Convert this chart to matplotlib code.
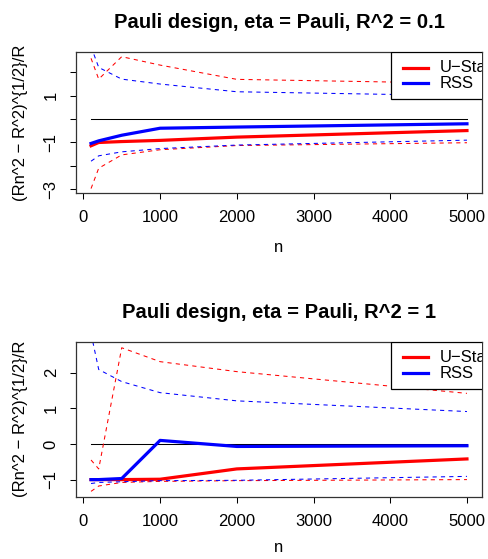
import matplotlib
matplotlib.use("Agg")
import matplotlib.pyplot as plt
from matplotlib.patches import Rectangle
from matplotlib.lines import Line2D

plt.rcParams['font.family'] = ['Liberation Sans', 'DejaVu Sans']

n = [100, 200, 500, 1000, 2000, 5000]

# Panel 1: R^2 = 0.1
u_mean_1 = [-1.14, -1.00, -0.96, -0.91, -0.77, -0.49]
u_hi_1 = [2.60, 1.71, 2.67, 2.31, 1.70, 1.53]
u_lo_1 = [-2.97, -2.10, -1.53, -1.31, -1.13, -1.01]
r_mean_1 = [-1.04, -0.93, -0.69, -0.39, -0.34, -0.20]
r_hi_1 = [3.10, 2.21, 1.71, 1.50, 1.17, 1.00]
r_lo_1 = [-1.80, -1.57, -1.40, -1.26, -1.11, -0.90]

# Panel 2: R^2 = 1
u_mean_2 = [-1.00, -1.00, -1.00, -0.99, -0.70, -0.42]
u_hi_2 = [-0.45, -0.70, 2.70, 2.31, 2.03, 1.42]
u_lo_2 = [-1.33, -1.18, -1.08, -1.05, -1.03, -1.00]
r_mean_2 = [-1.00, -1.00, -0.97, 0.10, -0.07, -0.05]
r_hi_2 = [3.10, 2.09, 1.75, 1.44, 1.21, 0.91]
r_lo_2 = [-1.11, -1.08, -1.06, -1.03, -1.02, -0.91]

titles = ["Pauli design, eta = Pauli, R^2 = 0.1",
          "Pauli design, eta = Pauli, R^2 = 1"]
ylabel = "(Rn^2 \u2212 R^2)^{1/2}/R"
xlabel = "n"
legend_labels = ["U\u2212Stat", "RSS"]
xticks = [0, 1000, 2000, 3000, 4000, 5000]

W, H = 488, 559
fig = plt.figure(figsize=(W / 100, H / 100), dpi=100)

# axes pixel boxes: left, top, right, bottom
boxes = [(76, 52, 482, 193), (76, 341.7, 482, 496.7)]
ylims = [(-3.16, 2.87), (-1.48, 2.87)]
yticks = [[-3, -2, -1, 0, 1, 2], [-1, 0, 1, 2]]
ylabels_shown = [["\u22123", "", "\u22121", "", "1", ""], ["\u22121", "0", "1", "2"]]
xlab_off = [55, 51.3]

data = [(u_mean_1, u_hi_1, u_lo_1, r_mean_1, r_hi_1, r_lo_1),
        (u_mean_2, u_hi_2, u_lo_2, r_mean_2, r_hi_2, r_lo_2)]

red = "#FF0000"
blue = "#0000FF"
thick = 2.3
thin = 0.75

for i in range(2):
    l, t, r, b = boxes[i]
    ax = fig.add_axes([l / W, 1 - b / H, (r - l) / W, (b - t) / H])
    um, uh, ul, rm, rh, rl = data[i]
    ax.plot([n[0], n[-1]], [0, 0], color="black", lw=0.75)
    ax.plot(n, um, color=red, lw=thick, solid_joinstyle='round')
    ax.plot(n, uh, color=red, lw=thin, dashes=(4, 4))
    ax.plot(n, ul, color=red, lw=thin, dashes=(4, 4))
    ax.plot(n, rm, color=blue, lw=thick, solid_joinstyle='round')
    ax.plot(n, rh, color=blue, lw=thin, dashes=(4, 4))
    ax.plot(n, rl, color=blue, lw=thin, dashes=(4, 4))
    ax.set_xlim(-96, 5196)
    ax.set_ylim(*ylims[i])
    ax.set_xticks(xticks)
    ax.set_xticklabels([str(v) for v in xticks])
    ax.set_yticks(yticks[i])
    ax.set_yticklabels(ylabels_shown[i], rotation=90, va='center')
    ax.tick_params(direction='out', length=4.5, width=0.75, labelsize=12, pad=8)
    for s in ax.spines.values():
        s.set_linewidth(0.9)
        s.set_color("#333333")
    ax.set_title(titles[i], fontsize=14.6, fontweight='bold', pad=17)
    ax.set_xlabel(xlabel, fontsize=12)
    ax.xaxis.set_label_coords(0.5, -xlab_off[i] / (b - t))
    ax.xaxis.label.set_va('center')
    ax.set_ylabel(ylabel, fontsize=12)
    ax.yaxis.set_label_coords(-56 / (r - l), 0.5)
    ax.yaxis.label.set_va('center')

    # manual legend (clipped at the plot box, like the reference)
    aw, ah = (r - l), (b - t)
    def fx(px):
        return (px - l) / aw
    def fy(py):
        return (b - py) / ah
    leg_bottom = t + 47
    rect = Rectangle((fx(391), fy(leg_bottom)), fx(560) - fx(391), fy(t) - fy(leg_bottom),
                     transform=ax.transAxes, facecolor="white", edgecolor="black",
                     lw=0.9, clip_on=True, zorder=5)
    ax.add_patch(rect)
    for k, (lab, col) in enumerate(zip(legend_labels, [red, blue])):
        yy = t + 15.7 + 15.6 * k
        ln = Line2D([fx(402.7), fx(428.3)], [fy(yy), fy(yy)], transform=ax.transAxes,
                    color=col, lw=thick, zorder=6, clip_on=True)
        ax.add_line(ln)
        ax.text(fx(439.3), fy(yy), lab, transform=ax.transAxes, fontsize=12,
                va='center', ha='left', clip_on=True, zorder=6)

fig.savefig("out.png", dpi=100)
